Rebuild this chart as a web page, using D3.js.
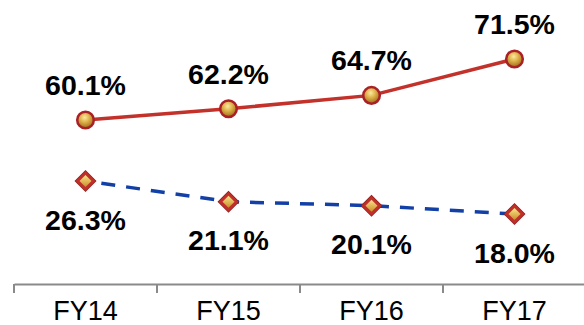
<!DOCTYPE html>
<html>
<head>
<meta charset="utf-8">
<script src="https://cdn.jsdelivr.net/npm/d3@7"></script>
<style>
  body { margin: 0; background: #fff; }
  svg { display: block; font-family: "Liberation Sans", Arial, sans-serif; }
</style>
</head>
<body>
<div id="chart"></div>
<script>
(function() {
  var years = ['FY14', 'FY15', 'FY16', 'FY17']
  var topValues = [60.1, 62.2, 64.7, 71.5]
  var bottomValues = [26.3, 21.1, 20.1, 18.0]

  var width = 584
  var height = 325
  var axisY = 284

  var xPositionScale = d3.scaleBand().domain(years).range([14, 586])
  // two separate value scales (primary / secondary axis)
  var yTopScale = d3.scaleLinear().domain([60.1, 71.5]).range([120, 59])
  var yBottomScale = d3.scaleLinear().domain([18.0, 26.3]).range([214, 181])

  var cx = d => xPositionScale(d) + xPositionScale.bandwidth() / 2

  var svg = d3.select('#chart')
    .append('svg')
    .attr('width', width)
    .attr('height', height)

  var defs = svg.append('defs')
  var ballGrad = defs.append('radialGradient')
    .attr('id', 'ball')
    .attr('cx', '45%').attr('cy', '35%').attr('r', '65%')
  ballGrad.append('stop').attr('offset', '0%').attr('stop-color', '#fbe9a0')
  ballGrad.append('stop').attr('offset', '45%').attr('stop-color', '#deb048')
  ballGrad.append('stop').attr('offset', '100%').attr('stop-color', '#9a6a1a')

  var diaGrad = defs.append('linearGradient')
    .attr('id', 'dia').attr('x1', '0').attr('y1', '0').attr('x2', '0').attr('y2', '1')
  diaGrad.append('stop').attr('offset', '0%').attr('stop-color', '#fbe38a')
  diaGrad.append('stop').attr('offset', '100%').attr('stop-color', '#c98f2a')

  // axis
  var xAxis = d3.axisBottom(xPositionScale).tickSize(0).tickSizeOuter(0)
  var axisG = svg.append('g')
    .attr('class', 'axis axis-x')
    .attr('transform', 'translate(0,' + axisY + ')')
    .call(xAxis)
  axisG.select('.domain').attr('stroke', '#8a8a8a').attr('stroke-width', 2)
  axisG.selectAll('.tick text')
    .attr('fill', '#000')
    .attr('font-size', '27px')
    .attr('font-family', '"Liberation Sans", Arial, sans-serif')
    .attr('dy', 0)
    .attr('y', 36)
  axisG.selectAll('.boundary')
    .data(years)
    .enter().append('line')
    .attr('class', 'boundary')
    .attr('x1', d => xPositionScale(d))
    .attr('x2', d => xPositionScale(d))
    .attr('y1', 0)
    .attr('y2', 9)
    .attr('stroke', '#8a8a8a')
    .attr('stroke-width', 2)

  // top line
  var topLine = d3.line()
    .x((d, i) => cx(years[i]))
    .y(d => yTopScale(d))
  svg.append('path')
    .datum(topValues)
    .attr('d', topLine)
    .attr('fill', 'none')
    .attr('stroke', '#c3312b')
    .attr('stroke-width', 3.5)

  // bottom dashed line
  var bottomLine = d3.line()
    .x((d, i) => cx(years[i]))
    .y(d => yBottomScale(d))
  svg.append('path')
    .datum(bottomValues)
    .attr('d', bottomLine)
    .attr('fill', 'none')
    .attr('stroke', '#1340a6')
    .attr('stroke-width', 3.5)
    .attr('stroke-dasharray', '14,11')
    .attr('stroke-dashoffset', -16)

  // circle markers
  svg.selectAll('.ball')
    .data(topValues)
    .enter().append('circle')
    .attr('class', 'ball')
    .attr('cx', (d, i) => cx(years[i]))
    .attr('cy', d => yTopScale(d))
    .attr('r', 8.3)
    .attr('fill', 'url(#ball)')
    .attr('stroke', '#a92026')
    .attr('stroke-width', 2.5)

  // diamond markers
  var dia = svg.selectAll('.dia')
    .data(bottomValues)
    .enter().append('g')
    .attr('class', 'dia')
    .attr('transform', (d, i) => 'translate(' + cx(years[i]) + ',' + yBottomScale(d) + ')')
  dia.append('path')
    .attr('d', 'M0,-11L11,0L0,11L-11,0Z')
    .attr('fill', '#8c1e1e')
  dia.append('path')
    .attr('d', 'M0,-10L10,0L0,10L-10,0Z')
    .attr('fill', '#c0302a')
  dia.append('path')
    .attr('d', 'M0,-6L6,0L0,6L-6,0Z')
    .attr('fill', 'url(#dia)')

  // labels
  svg.selectAll('.top-label')
    .data(topValues)
    .enter().append('text')
    .attr('class', 'top-label')
    .attr('x', (d, i) => cx(years[i]))
    .attr('y', d => yTopScale(d) - 25)
    .attr('text-anchor', 'middle')
    .attr('font-size', '28.5px')
    .attr('font-weight', 'bold')
    .text(d => d.toFixed(1) + '%')

  svg.selectAll('.bottom-label')
    .data(bottomValues)
    .enter().append('text')
    .attr('class', 'bottom-label')
    .attr('x', (d, i) => cx(years[i]))
    .attr('y', d => yBottomScale(d) + 48.5)
    .attr('text-anchor', 'middle')
    .attr('font-size', '28.5px')
    .attr('font-weight', 'bold')
    .text(d => d.toFixed(1) + '%')
})()
</script>
</body>
</html>
